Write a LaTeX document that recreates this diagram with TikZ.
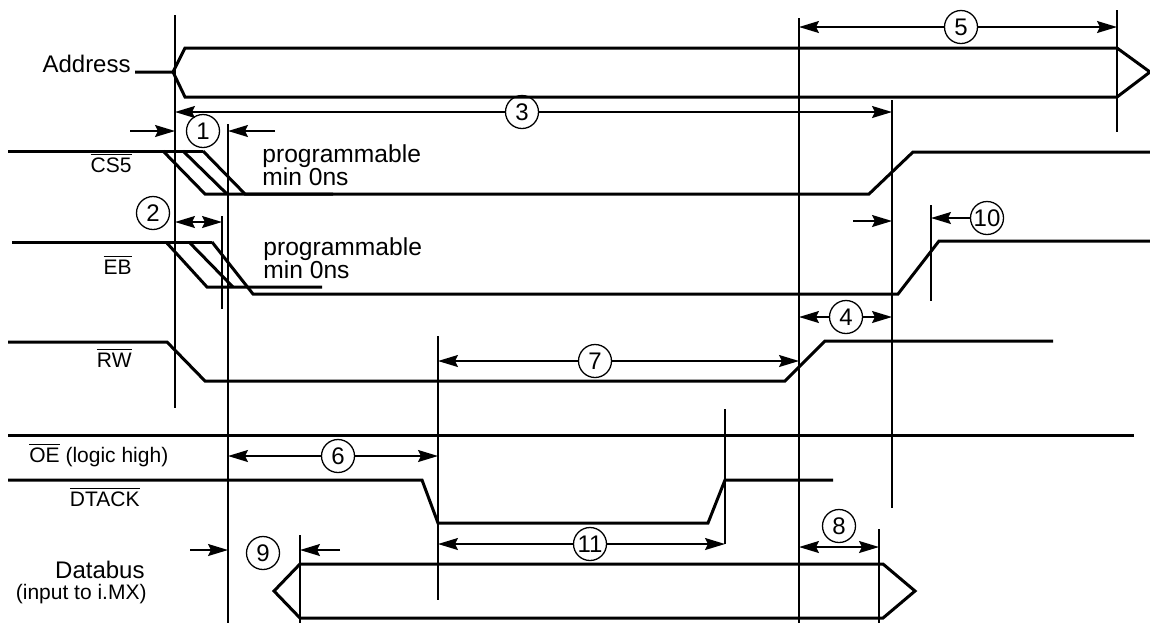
\documentclass[tikz,border=0pt]{standalone}
\usepackage{fontspec}
\setmainfont{Liberation Sans}
\usetikzlibrary{arrows.meta}
\newcommand{\ovl}[1]{$\overline{\mbox{#1}}$}

\begin{document}
\begin{tikzpicture}[x=0.5pt,y=-0.5pt,
    sig/.style={line width=1.5pt},
    tline/.style={line width=1pt},
    dim/.style={line width=0.85pt},
    num/.style={circle,draw,line width=0.65pt,minimum size=16.5pt,inner sep=0pt,font=\fontsize{12}{12}\selectfont},
    lbl/.style={font=\fontsize{12}{12}\selectfont,inner sep=0pt},
    plbl/.style={font=\fontsize{12.3}{11.8}\selectfont,inner sep=0pt,align=left,anchor=north west},
    slbl/.style={font=\fontsize{10.5}{10.5}\selectfont,inner sep=0pt},
    >={Stealth[length=10pt,width=6pt,inset=1.5pt]}]

        \useasboundingbox (0,0) rectangle (1150,623);

        % time lines
        \draw[tline] (175,15) coordinate (t1) -- (175,408);
        \draw[tline] (228,124) coordinate (t2) -- (228,623);
        \draw[tline] (222,216) coordinate (t2b) -- (222,309);
        \draw[tline] (300,535) coordinate (t8) -- (300,623);
        \draw[tline] (438,336) coordinate (t3) -- (438,600);
        \draw[tline] (725,409) coordinate (t4) -- (725,544);
        \draw[tline] (799,18) coordinate (t5) -- (799,623);
        \draw[tline] (879,529) coordinate (t9) -- (879,623);
        \draw[tline] (892,100) coordinate (t6) -- (892,508);
        \draw[tline] (931,205) coordinate (t7) -- (931,301);
        \draw[tline] (1117,10) coordinate (t10) -- (1117,132);

        % signals
        \draw[sig] (135,72) -- (173,72) -- (185,48) -- (1117,48) -- (1150,72) -- (1117,97) -- (185,97) -- (173,72);
        \node[lbl,anchor=base east] (addr) at (131,72) {Address};

        \draw[sig] (8,151) -- (203,151);
        \draw[sig] (163,151) -- (205,194) -- (869,194) -- (913,152) -- (1150,152);
        \draw[sig] (183,151) -- (227,194);
        \draw[sig] (203,151) -- (245,194) -- (333,194);
        \node[slbl,anchor=base east] (cs) at (132,172) {\ovl{CS5}};
        \node[plbl] (prog1) at (262,144) {programmable\\min 0ns};

        \draw[sig] (12,242) -- (212,242);
        \draw[sig] (166,242) -- (207,287) -- (322,287);
        \draw[sig] (189,242) -- (233,287);
        \draw[sig] (212,242) -- (253,294) -- (898,294) -- (939,241) -- (1150,241);
        \node[slbl,anchor=base east] (eb) at (132,274) {\ovl{EB}};
        \node[plbl] (prog2) at (263,237) {programmable\\min 0ns};

        \draw[sig] (8,342) -- (167,342) -- (205,381) -- (785,381) -- (825,341) -- (1053,341);
        \node[slbl,anchor=base east] (rw) at (132,367) {\ovl{RW}};

        \draw[sig] (8,435) -- (1134,435);
        \node[slbl,anchor=base west] (oe) at (29,462) {\ovl{OE} (logic high)};

        \draw[sig] (8,480) -- (422,480) -- (438,523) -- (708,523) -- (725,480) -- (833,480);
        \node[slbl,anchor=base east] (dtack) at (140,506) {\ovl{DTACK}};

        \draw[sig] (274,591) -- (300,564) -- (883,564) -- (915,591) -- (883,618) -- (300,618) -- cycle;
        \node[lbl,anchor=base east] (db) at (145,578) {Databus};
        \node[slbl,anchor=base east] (dbin) at (147,599) {(input to i.MX)};

        % timing marks
        \node[num] (c1) at (203,131) {1};
        \coordinate (a1) at (130,131);
        \coordinate (b1) at (275,131);
        \draw[dim,->] (a1) -- (a1 -| t1);
        \draw[dim,->] (b1) -- (b1 -| t2);

        \node[num] (c2) at (153,213) {2};
        \coordinate (a2) at (0,222);
        \draw[dim,<->] (a2 -| t1) -- (a2 -| t2b);

        \node[num] (c3) at (522,112) {3};
        \draw[dim,->] (c3) -- (c3 -| t1);
        \draw[dim,->] (c3) -- (c3 -| t6);

        \node[num] (c4) at (846,317) {4};
        \draw[dim,->] (c4) -- (c4 -| t5);
        \draw[dim,->] (c4) -- (c4 -| t6);

        \node[num] (c5) at (961,27) {5};
        \draw[dim,->] (c5) -- (c5 -| t5);
        \draw[dim,->] (c5) -- (c5 -| t10);

        \node[num] (c6) at (338,456) {6};
        \draw[dim,->] (c6) -- (c6 -| t2);
        \draw[dim,->] (c6) -- (c6 -| t3);

        \node[num] (c7) at (595,361) {7};
        \draw[dim,->] (c7) -- (c7 -| t3);
        \draw[dim,->] (c7) -- (c7 -| t5);

        \node[num] (c8) at (839,526) {8};
        \coordinate (a8) at (0,547);
        \draw[dim,<->] (a8 -| t5) -- (a8 -| t9);

        \node[num] (c9) at (263,553) {9};
        \coordinate (a9) at (190,550);
        \coordinate (b9) at (340,550);
        \draw[dim,->] (a9) -- (a9 -| t2);
        \draw[dim,->] (b9) -- (b9 -| t8);

        \node[num] (c10) at (987,218) {10};
        \coordinate (a10) at (853,221);
        \draw[dim,->] (c10) -- (c10 -| t7);
        \draw[dim,->] (a10) -- (a10 -| t6);

        \node[num] (c11) at (590,544) {11};
        \draw[dim,->] (c11) -- (c11 -| t3);
        \draw[dim,->] (c11) -- (c11 -| t4);

\end{tikzpicture}
\end{document}
